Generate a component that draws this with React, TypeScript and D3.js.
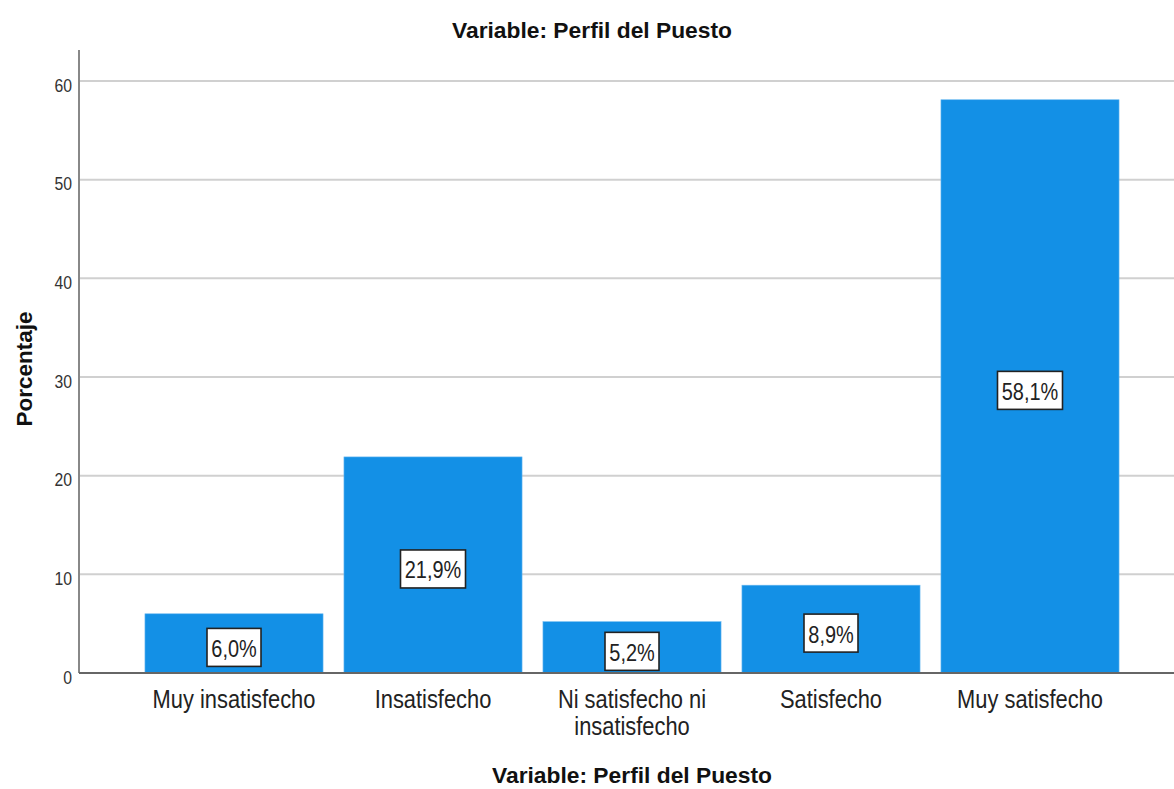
import React from "react";
import * as d3 from "d3";

const categories = ["Muy insatisfecho", "Insatisfecho", "Ni satisfecho ni insatisfecho", "Satisfecho", "Muy satisfecho"];
const categoryLines = [["Muy insatisfecho"], ["Insatisfecho"], ["Ni satisfecho ni", "insatisfecho"], ["Satisfecho"], ["Muy satisfecho"]];
const values = [6.0, 21.9, 5.2, 8.9, 58.1];
const valueLabels = ["6,0%", "21,9%", "5,2%", "8,9%", "58,1%"];
const yTicks = [0, 10, 20, 30, 40, 50, 60];
const title = "Variable: Perfil del Puesto";
const xTitle = "Variable: Perfil del Puesto";
const yTitle = "Porcentaje";

const W = 1174, H = 789;
const left = 79, right = 1174, top = 50, bottom = 673;
const font = "'Liberation Sans', Arial, sans-serif";

export default function App() {
  const x = d3.scaleBand<string>().domain(categories).range([135, 1129]).paddingInner(0.105).paddingOuter(0.05);
  const y = d3.scaleLinear().domain([0, 60]).range([bottom, 81]);
  return (
    <svg width={W} height={H} style={{ position: "absolute", left: 0, top: 0, background: "#fff" }}>
      <text x={592} y={38} textAnchor="middle" fontFamily={font} fontWeight="bold" fontSize={22.8} fill="#111">{title}</text>
      {yTicks.filter(t => t > 0).map(t => (
        <line key={t} x1={left} x2={right} y1={y(t)} y2={y(t)} stroke="#d0d0d0" strokeWidth={2} />
      ))}
      {yTicks.map(t => (
        <text key={"l" + t} transform={`translate(72, ${y(t) + 10.5}) scale(0.9,1)`} textAnchor="end" fontFamily={font} fontSize={17.5} fill="#333">{t}</text>
      ))}
      {categories.map((c, i) => (
        <rect key={c} x={x(c)} y={y(values[i])} width={x.bandwidth()} height={bottom - y(values[i])} fill="#1390e6" stroke="#6cb9f0" strokeWidth={0.6} />
      ))}
      <line x1={left} x2={left} y1={top} y2={bottom} stroke="#888" strokeWidth={2} />
      <line x1={left} x2={right} y1={bottom} y2={bottom} stroke="#666" strokeWidth={2} />
      {categories.map((c, i) => {
        const cx = (x(c) as number) + x.bandwidth() / 2;
        const cy = y(values[i] / 2) + 4;
        const w = valueLabels[i].length > 4 ? 65 : 54;
        return (
          <g key={"v" + c}>
            <rect x={cx - w / 2} y={cy - 19} width={w} height={38} fill="#fff" stroke="#222" strokeWidth={1.6} />
            <text transform={`translate(${cx}, ${cy + 9.5}) scale(0.83,1)`} textAnchor="middle" fontFamily={font} fontSize={24} fill="#222">{valueLabels[i]}</text>
          </g>
        );
      })}
      {categories.map((c, i) => {
        const cx = (x(c) as number) + x.bandwidth() / 2;
        return (
          <text key={"c" + c} transform={`translate(${cx}, 0) scale(0.875,1)`} textAnchor="middle" fontFamily={font} fontSize={25} fill="#222">
            {categoryLines[i].map((ln, j) => (
              <tspan key={j} x={0} y={708 + j * 27}>{ln}</tspan>
            ))}
          </text>
        );
      })}
      <text x={632} y={783} textAnchor="middle" fontFamily={font} fontWeight="bold" fontSize={22.8} fill="#111">{xTitle}</text>
      <text transform={`translate(32, 369) rotate(-90)`} textAnchor="middle" fontFamily={font} fontWeight="bold" fontSize={22.5} fill="#111">{yTitle}</text>
    </svg>
  );
}
